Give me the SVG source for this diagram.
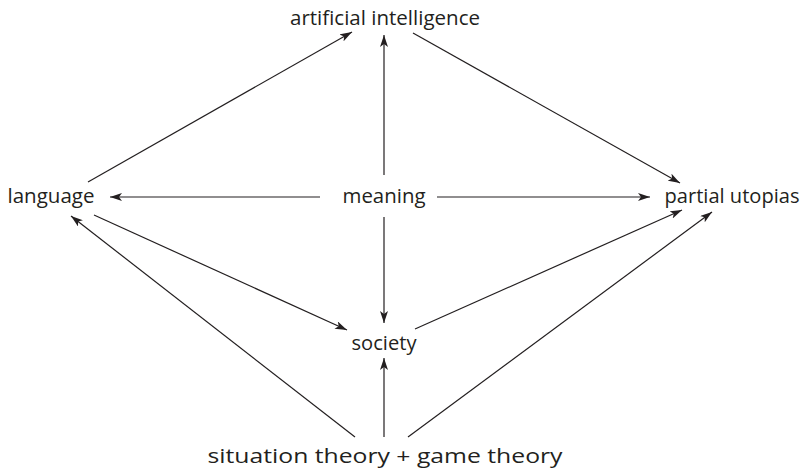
<svg xmlns="http://www.w3.org/2000/svg" width="803" height="472" viewBox="0 0 803 472">
<style>
.lbl{font-family:"Open Sans","Noto Sans",sans-serif;font-size:20px;fill:#231f20;text-anchor:middle}
.c{stroke:#231f20;stroke-width:1.2;fill:none;marker-end:url(#ah)}
</style>
<defs>
<marker id="ah" viewBox="0 0 12 8" refX="12" refY="4" markerWidth="12" markerHeight="8" markerUnits="userSpaceOnUse" orient="auto">
<path d="M0,0 L12,4 L0,8 L3,4 Z" fill="#231f20"/>
</marker>
</defs>
<rect width="803" height="472" fill="#fff"/>
<g id="connectors">
<line class="c" x1="384" y1="175" x2="384" y2="35"/>
<line class="c" x1="88" y1="182" x2="352" y2="32"/>
<line class="c" x1="413" y1="33" x2="680" y2="183"/>
<line class="c" x1="320" y1="197" x2="110" y2="197"/>
<line class="c" x1="437" y1="197" x2="650" y2="197"/>
<line class="c" x1="384" y1="217" x2="384" y2="323"/>
<line class="c" x1="94" y1="215" x2="347" y2="330"/>
<line class="c" x1="415" y1="329" x2="682" y2="210"/>
<line class="c" x1="355" y1="437" x2="71" y2="216"/>
<line class="c" x1="384" y1="437" x2="384" y2="358"/>
<line class="c" x1="408" y1="437" x2="712" y2="212"/>
</g>
<g id="ai"><text class="lbl" x="385" y="25" textLength="190" lengthAdjust="spacingAndGlyphs">artificial intelligence</text></g>
<g id="language"><text class="lbl" x="51" y="203" textLength="87" lengthAdjust="spacingAndGlyphs">language</text></g>
<g id="meaning"><text class="lbl" x="384" y="203" textLength="83" lengthAdjust="spacingAndGlyphs">meaning</text></g>
<g id="utopias"><text class="lbl" x="732" y="203" textLength="135" lengthAdjust="spacingAndGlyphs">partial utopias</text></g>
<g id="society"><text class="lbl" x="384" y="350" textLength="65" lengthAdjust="spacingAndGlyphs">society</text></g>
<g id="situation"><text class="lbl" x="385" y="463" textLength="355" lengthAdjust="spacingAndGlyphs">situation theory + game theory</text></g>
</svg>
